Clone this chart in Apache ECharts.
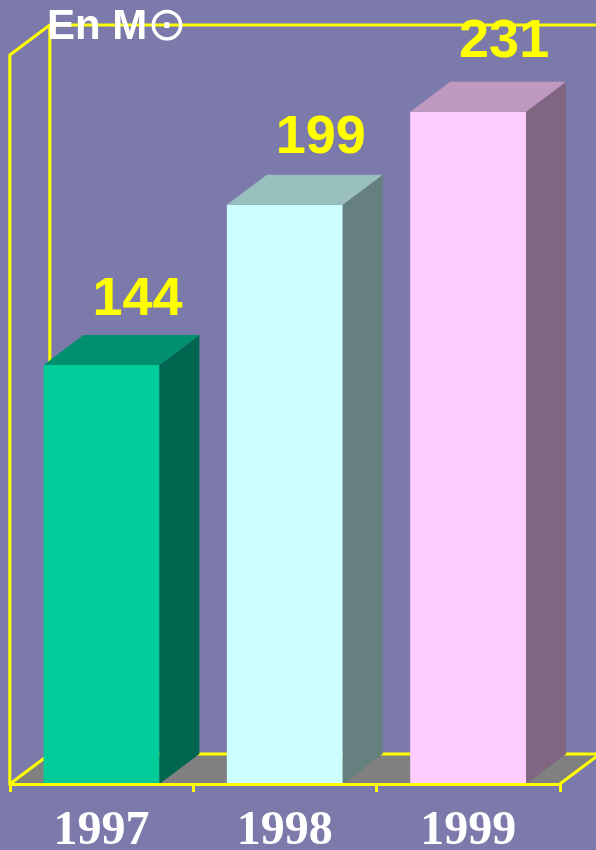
<!DOCTYPE html>
<html>
<head>
<meta charset="utf-8">
<style>
  html, body { margin: 0; padding: 0; background: #7b7aab; }
  #chart { width: 596px; height: 850px; }
</style>
<script src="https://cdn.jsdelivr.net/npm/echarts@6/dist/echarts.min.js"></script>
</head>
<body>
<div id="chart"></div>
<script>
const years = ['1997', '1998', '1999']
const values = [144, 199, 231]
const axisMax = 250.5

const frontColors = ['#00cc99', '#ccffff', '#ffccff']
const sideColors = ['#006650', '#668080', '#806680']
const topColors = ['#009070', '#99bfbf', '#bf99bf']
// labels were placed by hand in the original, gap above each bar
const labelLift = [64.5, 66.5, 69.5]

// 3d offset of the bars and of the back wall
const depthX = 40
const depthY = -30
const yellow = '#ffff00'

const myChart = echarts.init(document.getElementById('chart'))

function line (points) {
  return {
    type: 'polyline',
    shape: { points },
    style: { fill: null, stroke: yellow, lineWidth: 3 }
  }
}

// floor and wall edges, placed with the axis scales
function renderFrame (params, api) {
  const band = api.size([1, 0])[0]
  const left = api.coord([0, 0])[0] - band / 2
  const right = left + band * years.length
  const bottom = api.coord([0, 0])[1]
  const top = api.coord([0, axisMax])[1]
  return {
    type: 'group',
    children: [
      {
        type: 'polygon',
        shape: {
          points: [[left, bottom], [right, bottom], [right + depthX, bottom + depthY], [left + depthX, bottom + depthY]]
        },
        style: { fill: '#808080' }
      },
      line([[left, bottom], [left, top], [left + depthX, top + depthY], [right + depthX, top + depthY]]),
      line([[left + depthX, top + depthY], [left + depthX, bottom + depthY], [right + depthX, bottom + depthY]]),
      line([[left, bottom], [left + depthX, bottom + depthY]]),
      line([[right, bottom], [right + depthX, bottom + depthY]])
    ]
  }
}

function renderBar (params, api) {
  const i = params.dataIndex
  const val = api.value(1)
  const center = api.coord([i, val])
  const base = api.coord([i, 0])
  const w = api.size([1, 0])[0] * 0.632
  const x0 = center[0] - w / 2
  const x1 = center[0] + w / 2
  const y0 = center[1]
  const y1 = base[1]
  return {
    type: 'group',
    children: [
      { type: 'rect', shape: { x: x0, y: y0, width: w, height: y1 - y0 }, style: { fill: frontColors[i] } },
      {
        type: 'polygon',
        shape: { points: [[x1, y0], [x1 + depthX, y0 + depthY], [x1 + depthX, y1 + depthY], [x1, y1]] },
        style: { fill: sideColors[i] }
      },
      {
        type: 'polygon',
        shape: { points: [[x0, y0], [x0 + depthX, y0 + depthY], [x1 + depthX, y0 + depthY], [x1, y0]] },
        style: { fill: topColors[i] }
      },
      {
        type: 'text',
        style: {
          text: String(val),
          x: center[0] + 36,
          y: y0 - labelLift[i],
          align: 'center',
          verticalAlign: 'middle',
          fill: yellow,
          font: 'bold 54px "Liberation Sans"'
        }
      }
    ]
  }
}

myChart.setOption({
  backgroundColor: '#7b7aab',
  animation: false,
  title: {
    text: '{b|En M}{c|⊙}',
    left: 42,
    top: -1,
    z: 10,
    textStyle: {
      rich: {
        b: { color: '#fff', fontFamily: '"Liberation Sans"', fontWeight: 'bold', fontSize: 42 },
        c: { color: '#fff', fontFamily: '"DejaVu Sans"', fontWeight: 'normal', fontSize: 47 }
      }
    }
  },
  // labels sit close to the page edge, keep the grid where it is
  grid: { left: 9.8, top: 55, width: 550, height: 729, outerBoundsMode: 'none' },
  xAxis: {
    type: 'category',
    data: years,
    z: 5,
    axisLine: { lineStyle: { color: yellow, width: 3 } },
    axisTick: { show: true, length: 8, lineStyle: { color: yellow, width: 3 } },
    axisLabel: {
      margin: 24,
      color: '#fff',
      fontFamily: '"Liberation Serif"',
      fontWeight: 'bold',
      fontSize: 48
    }
  },
  yAxis: { type: 'value', min: 0, max: axisMax, show: false, splitLine: { show: false } },
  series: [
    {
      type: 'custom',
      z: 1,
      clip: false,
      data: [[0, 0]],
      renderItem: renderFrame
    },
    {
      type: 'custom',
      z: 2,
      clip: false,
      data: values.map((v, i) => [i, v]),
      renderItem: renderBar
    }
  ]
})
</script>
</body>
</html>
